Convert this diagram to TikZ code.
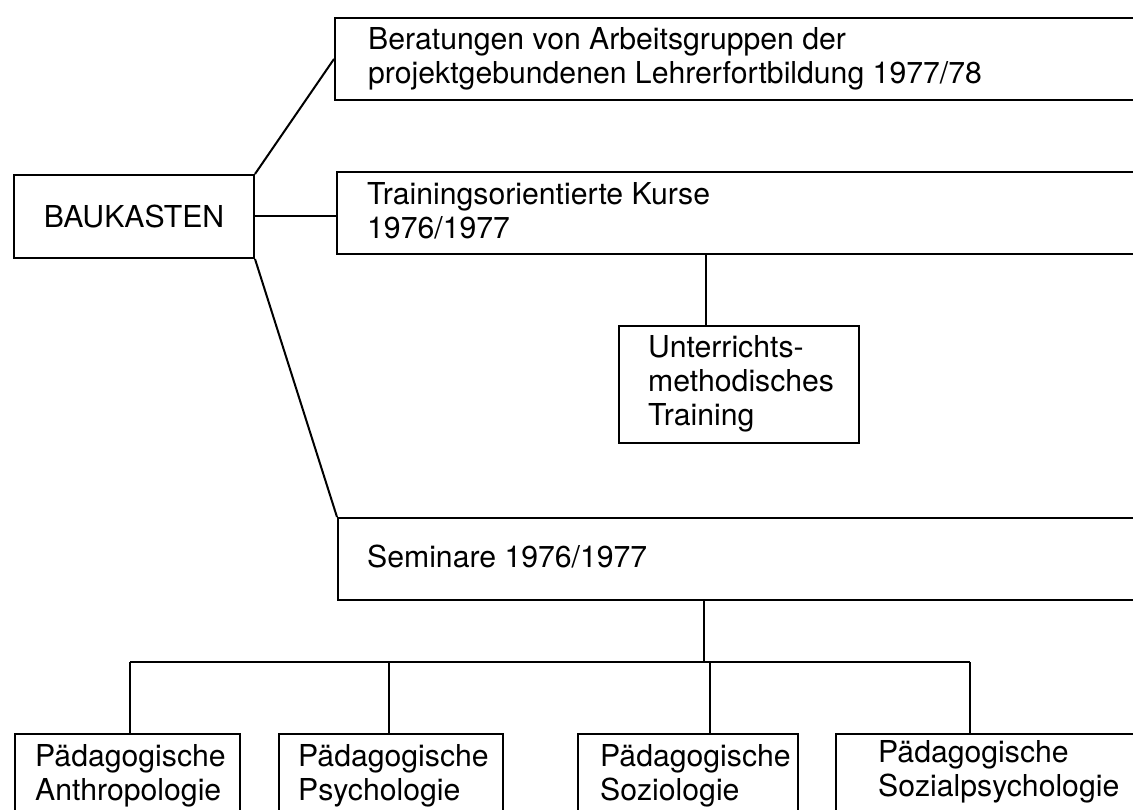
\documentclass[tikz,border=0pt]{standalone}
\usepackage{fontspec}
\setmainfont{TeX Gyre Heros}
\begin{document}
\begin{tikzpicture}[x=1pt,y=-1pt,
  box/.style={draw=black,line width=2pt,rectangle,inner sep=0pt,anchor=north west},
  txt/.style={anchor=base west,inner sep=0pt},
  conn/.style={draw=black,line width=2pt}]
\fontsize{30.2}{34}\selectfont
\useasboundingbox[fill=white] (0,0) rectangle (1133,810);
% boxes
\node[box,minimum width=240pt,minimum height=83pt] (K) at (13,174) {BAUKASTEN};
\node[box,minimum width=840pt,minimum height=82pt] (B) at (334,17) {};
\node[box,minimum width=840pt,minimum height=82pt] (T) at (336,171) {};
\node[box,minimum width=240pt,minimum height=117pt] (U) at (618,325) {};
\node[box,minimum width=840pt,minimum height=82pt] (S) at (337,517) {};
\node[box,minimum width=225pt,minimum height=120pt] (b1) at (14,733) {};
\node[box,minimum width=224pt,minimum height=120pt] (b2) at (278,733) {};
\node[box,minimum width=220pt,minimum height=120pt] (b3) at (577,733) {};
\node[box,minimum width=340pt,minimum height=120pt] (b4) at (835,733) {};
% texts
\node[txt] (tB) at (368,50) {\parbox[t]{700pt}{Beratungen von Arbeitsgruppen der\\projektgebundenen Lehrerfortbildung 1977/78}};
\node[txt] (tT) at (367,205) {\parbox[t]{500pt}{Trainingsorientierte Kurse\\1976/1977}};
\node[txt] (tU) at (648,358) {\parbox[t]{300pt}{Unterrichts-\\methodisches\\Training}};
\node[txt] (tS) at (367,567) {Seminare 1976/1977};
\node[txt] (t1) at (35,766) {\parbox[t]{300pt}{Pädagogische\\Anthropologie}};
\node[txt] (t2) at (298,766) {\parbox[t]{300pt}{Pädagogische\\Psychologie}};
\node[txt] (t3) at (600,766) {\parbox[t]{300pt}{Pädagogische\\Soziologie}};
\node[txt] (t4) at (878,762) {\parbox[t]{300pt}{Pädagogische\\Sozialpsychologie}};
% junction coordinates
\coordinate (uj) at (706,300);
\coordinate (sj) at (704,630);
\coordinate (j1) at (130,662);
\coordinate (j2) at (389,662);
\coordinate (j3) at (710,662);
\coordinate (j4) at (970,662);
% connectors
\draw[conn] (K.north east) -- (B.west);
\draw[conn] (K.east) -- (K.east -| T.west);
\draw[conn] (K.south east) -- (S.north west);
\draw[conn] (uj |- T.south) -- (uj |- U.north);
\draw[conn] (sj |- S.south) -- (sj |- j1);
\draw[conn] (j1) -- (j4);
\draw[conn] (j1) -- (j1 |- b1.north);
\draw[conn] (j2) -- (j2 |- b2.north);
\draw[conn] (j3) -- (j3 |- b3.north);
\draw[conn] (j4) -- (j4 |- b4.north);
\end{tikzpicture}
\end{document}
